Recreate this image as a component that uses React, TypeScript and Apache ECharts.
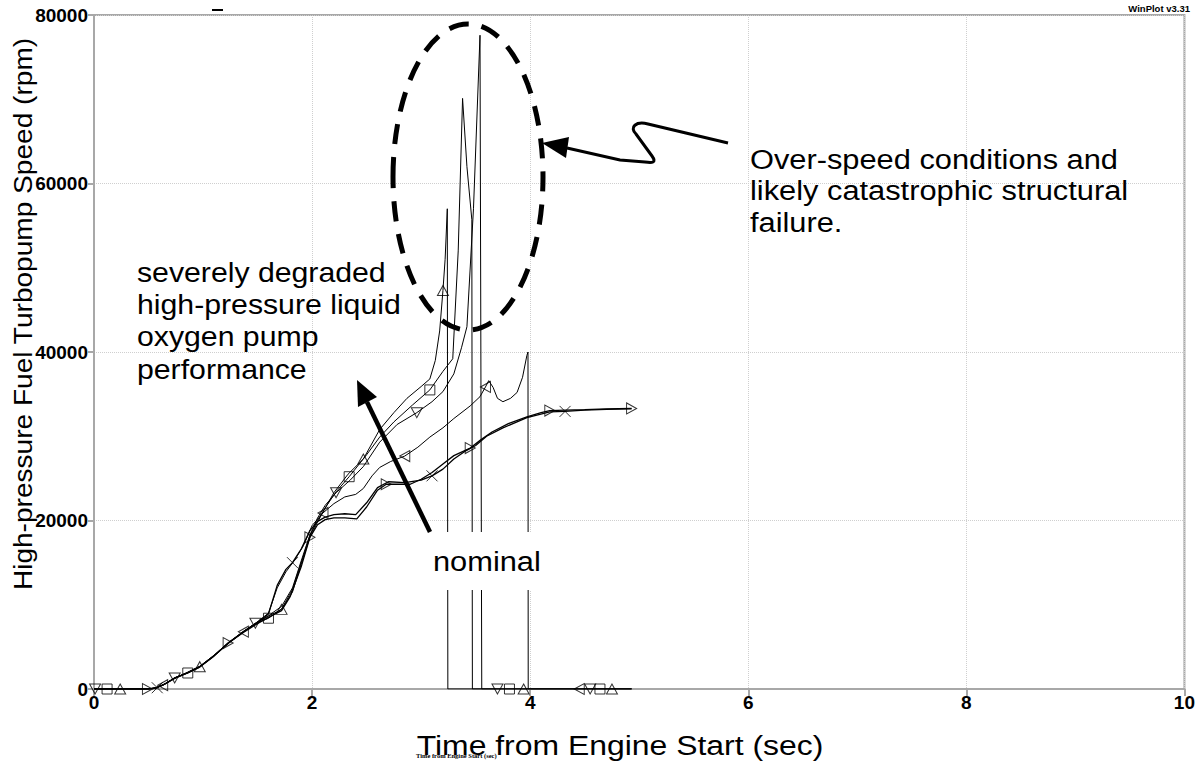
import React, { useEffect, useRef } from "react";
import * as echarts from "echarts";

// ---- axis ticks ----
const xTickLabels = ["0", "2", "4", "6", "8", "10"];
const yTickLabels = ["0", "20000", "40000", "60000", "80000"];

// ---- run data [time (s), speed (rpm)] ----
const runTriangle: number[][] = [
  [0, 0], [0.5, 0], [0.56, 100], [0.64, 500], [0.74, 1300], [0.86, 1950], [0.97, 2650],
  [1.1, 3950], [1.23, 5450], [1.37, 6800], [1.49, 7850], [1.6, 8650], [1.72, 9450],
  [1.82, 11500], [1.9, 14800], [1.98, 18000], [2.05, 19800], [2.1, 21000], [2.2, 23300],
  [2.33, 25500], [2.47, 27300], [2.62, 30800], [2.75, 32800], [2.87, 34500], [3.0, 35900],
  [3.08, 36800], [3.13, 39000], [3.17, 42500], [3.2, 47300], [3.22, 51000], [3.24, 57000],
  [3.245, 0], [4.93, 0],
];
const runSquare: number[][] = [
  [0, 0], [0.5, 0], [0.57, 150], [0.65, 600], [0.74, 1350], [0.86, 1900], [0.97, 2600],
  [1.1, 3900], [1.23, 5400], [1.37, 6750], [1.49, 7800], [1.6, 8400], [1.72, 9500],
  [1.82, 11800], [1.9, 15000], [1.98, 18200], [2.05, 20000], [2.12, 21500], [2.22, 23400],
  [2.34, 25200], [2.5, 27800], [2.62, 29900], [2.75, 31700], [2.92, 33700], [3.08, 35500],
  [3.2, 37700], [3.29, 39200], [3.34, 52000], [3.38, 70100], [3.42, 62000], [3.465, 55700],
  [3.47, 0], [4.93, 0],
];
const runDown: number[][] = [
  [0, 0], [0.5, 0], [0.58, 200], [0.66, 700], [0.74, 1300], [0.86, 2000], [0.97, 2700],
  [1.1, 4000], [1.23, 5500], [1.37, 6850], [1.48, 7800], [1.6, 8700], [1.72, 9800],
  [1.82, 12000], [1.9, 15200], [1.98, 18300], [2.05, 20300], [2.12, 21800], [2.22, 23300],
  [2.35, 24800], [2.47, 26400], [2.62, 29300], [2.78, 31400], [2.96, 32800], [3.1, 34100],
  [3.2, 35300], [3.3, 37400], [3.37, 40500], [3.42, 43000], [3.48, 57000], [3.54, 77600],
  [3.556, 0], [4.93, 0],
];
const runLeft: number[][] = [
  [0, 0], [0.5, 0], [0.56, 120], [0.63, 450], [0.74, 1300], [0.86, 1950], [0.97, 2650],
  [1.1, 3950], [1.23, 5450], [1.37, 6800], [1.49, 7900], [1.6, 9000], [1.68, 12000],
  [1.76, 13900], [1.84, 15300], [1.92, 17000], [2.0, 19400], [2.1, 20900], [2.2, 22000],
  [2.3, 22800], [2.4, 23100], [2.47, 23800], [2.55, 25300], [2.62, 26300], [2.72, 27000],
  [2.85, 27650], [2.97, 28700], [3.08, 29900], [3.2, 31000], [3.3, 32100], [3.45, 33600],
  [3.54, 34700], [3.59, 35850], [3.62, 36600], [3.66, 35800], [3.7, 34500], [3.75, 34100],
  [3.82, 34500], [3.88, 35200], [3.93, 37000], [3.97, 39600], [3.98, 40000], [3.982, 0], [4.93, 0],
];
const runRight: number[][] = [
  [0, 0], [0.48, 0], [0.55, 80], [0.63, 450], [0.74, 1250], [0.86, 1900], [0.97, 2600],
  [1.1, 3900], [1.23, 5450], [1.37, 6700], [1.49, 7700], [1.6, 8500], [1.72, 9300],
  [1.8, 11000], [1.9, 14500], [1.98, 18000], [2.05, 19500], [2.12, 20100], [2.2, 20300],
  [2.3, 20300], [2.41, 20200], [2.5, 21600], [2.6, 23600], [2.68, 24300], [2.8, 24300],
  [2.9, 24300], [3.0, 24900], [3.1, 25700], [3.2, 26700], [3.3, 27700], [3.45, 28600],
  [3.55, 29600], [3.65, 30500], [3.8, 31500], [3.97, 32300], [4.1, 32800], [4.18, 33050],
  [4.32, 33100], [4.5, 33150], [4.7, 33250], [4.93, 33300],
];
const runCross: number[][] = [
  [0, 0], [0.5, 0], [0.58, 150], [0.66, 650], [0.74, 1300], [0.86, 1950], [0.97, 2650],
  [1.1, 3950], [1.23, 5400], [1.37, 6800], [1.49, 7800], [1.6, 8900], [1.68, 12300],
  [1.76, 14200], [1.82, 15000], [1.9, 16600], [1.98, 18800], [2.05, 19900], [2.12, 20400],
  [2.2, 20700], [2.3, 20800], [2.4, 20700], [2.5, 22100], [2.6, 23900], [2.7, 24600],
  [2.85, 24500], [3.0, 24800], [3.1, 25300], [3.2, 26100], [3.3, 27300], [3.4, 28200],
  [3.5, 28900], [3.6, 30000], [3.75, 31000], [3.97, 32200], [4.18, 32900], [4.32, 32950],
  [4.5, 33100], [4.7, 33200], [4.93, 33250],
];

// ---- marker positions on each run ----
const markTriangle: number[][] = [[0.24, 0], [0.97, 2650], [1.72, 9450], [2.47, 27300], [3.2, 47300], [3.94, 0], [4.75, 0]];
const markSquare: number[][] = [[0.12, 0], [0.86, 1900], [1.6, 8400], [2.34, 25200], [3.08, 35500], [3.81, 0], [4.64, 0]];
const markDown: number[][] = [[0.01, 0], [0.74, 1300], [1.48, 7800], [2.22, 23300], [2.96, 32800], [3.7, 0], [4.55, 0]];
const markLeft: number[][] = [[0.63, 450], [1.37, 6800], [2.1, 20900], [2.85, 27650], [3.59, 35850], [4.45, 0]];
const markRight: number[][] = [[0.49, 0], [1.23, 5450], [1.98, 18000], [2.68, 24300], [3.45, 28600], [4.18, 33050], [4.93, 33300]];
const markCross: number[][] = [[0.58, 150], [1.82, 15000], [3.1, 25300], [4.32, 32950]];

const FONT = "'Liberation Sans', Arial, Helvetica, sans-serif";
const SARROW_D =
  "M728 143 L648 124 C636 121 629 127 636 134 L652 156 C657 163 652 163 645 162 L620 160 L567 148";

export default function App() {
  const ref = useRef<HTMLDivElement>(null);
  useEffect(() => {
    if (!ref.current) return;
    echarts.graphic.registerShape("sarrow", echarts.graphic.extendPath(SARROW_D, {}));
    const chart = echarts.init(ref.current, null, { renderer: "svg" });

    const lineSeries = (name: string, data: number[][], w = 1) => ({
      name,
      type: "line",
      data,
      symbol: "none",
      lineStyle: { color: "#000", width: w },
      z: 3,
      silent: true,
    });
    const markSeries = (name: string, data: number[][], symbol: string, rotate: number, size: any) => ({
      name: name + " markers",
      type: "scatter",
      data,
      symbol,
      symbolRotate: rotate,
      symbolSize: size,
      itemStyle: { color: "rgba(0,0,0,0)", borderColor: "#000", borderWidth: 1 },
      z: 4,
      silent: true,
    });

    const txt = (text: string, x: number, y: number, size: number, extra: any = {}, styleExtra: any = {}) => ({
      type: "text",
      x,
      y,
      z: 100,
      silent: true,
      ...extra,
      style: {
        text,
        fontSize: size,
        fontFamily: FONT,
        fill: "#000",
        textAlign: "left",
        align: "left",
        textVerticalAlign: "top",
        verticalAlign: "top",
        ...styleExtra,
      },
    });

    const option: any = {
      animation: false,
      backgroundColor: "#fff",
      grid: { left: 94, right: 13, top: 15, bottom: 74, show: true, borderColor: "#a8a8a8", borderWidth: 2 },
      xAxis: {
        type: "value",
        min: 0,
        max: 10,
        interval: 2,
        axisLine: { show: true, lineStyle: { color: "#a8a8a8", width: 2 } },
        axisTick: { show: true, length: 7, lineStyle: { color: "#a8a8a8", width: 2 } },
        axisLabel: {
          color: "#000",
          fontWeight: "bold",
          fontSize: 19,
          fontFamily: FONT,
          margin: 4,
          formatter: (v: number) => xTickLabels[Math.round(v / 2)] ?? String(v),
        },
        splitLine: { show: true, lineStyle: { color: "#cfcfcf", type: "dotted", width: 1 } },
      },
      yAxis: {
        type: "value",
        min: 0,
        max: 80000,
        interval: 20000,
        axisLine: { show: true, lineStyle: { color: "#a8a8a8", width: 2 } },
        axisTick: { show: true, length: 6, lineStyle: { color: "#a8a8a8", width: 2 } },
        axisLabel: {
          color: "#000",
          fontWeight: "bold",
          fontSize: 19,
          fontFamily: FONT,
          margin: 6,
          formatter: (v: number) => yTickLabels[Math.round(v / 20000)] ?? String(v),
        },
        splitLine: { show: true, lineStyle: { color: "#cfcfcf", type: "dotted", width: 1 } },
      },
      series: [
        lineSeries("run △", runTriangle),
        lineSeries("run □", runSquare),
        lineSeries("run ▽", runDown),
        lineSeries("run ◁", runLeft),
        lineSeries("run ▷", runRight, 1.3),
        lineSeries("run ×", runCross, 1.3),
        markSeries("run △", markTriangle, "triangle", 0, [11, 10]),
        markSeries("run □", markSquare, "rect", 0, 10),
        markSeries("run ▽", markDown, "triangle", 180, [11, 10]),
        markSeries("run ◁", markLeft, "triangle", 90, [11, 10]),
        markSeries("run ▷", markRight, "triangle", -90, [11, 10]),
        markSeries("run ×", markCross, "path://M0 0L10 10M10 0L0 10", 0, 11),
      ],
      graphic: [
        // axis titles
        txt("High-pressure Fuel Turbopump Speed (rpm)", 23, 314, 26, { rotation: Math.PI / 2, scaleX: 1.08 }, {
          textAlign: "center", align: "center", textVerticalAlign: "middle", verticalAlign: "middle",
        }),
        txt("Time from Engine Start (sec)", 620, 745, 28, { scaleX: 1.14 }, {
          textAlign: "center", align: "center", textVerticalAlign: "middle", verticalAlign: "middle",
        }),
        txt("Time from Engine Start (sec)", 416, 755, 6.5, {}, {
          fontFamily: "'Liberation Serif', 'Times New Roman', serif", fontWeight: "bold",
          textVerticalAlign: "middle", verticalAlign: "middle",
        }),
        txt("WinPlot v3.31", 1190, 8, 9.5, {}, {
          fontWeight: "bold", textAlign: "right", align: "right", textVerticalAlign: "middle", verticalAlign: "middle",
        }),
        { type: "line", z: 100, silent: true, shape: { x1: 212, y1: 10, x2: 223, y2: 10 }, style: { stroke: "#000", lineWidth: 2 } },
        // dashed ellipse
        {
          type: "ellipse", z: 100, silent: true,
          shape: { cx: 468, cy: 177, rx: 75, ry: 153 },
          style: { fill: "none", stroke: "#000", lineWidth: 5, lineDash: [20, 13] },
        },
        // straight arrow
        { type: "line", z: 100, silent: true, shape: { x1: 430, y1: 532, x2: 367, y2: 402 }, style: { stroke: "#000", lineWidth: 4.5 } },
        { type: "polygon", z: 100, silent: true, shape: { points: [[357, 380], [377, 397], [358, 407]] }, style: { fill: "#000" } },
        // curvy arrow
        { type: "sarrow", z: 100, silent: true, style: { fill: "none", stroke: "#000", lineWidth: 3 } },
        { type: "polygon", z: 100, silent: true, shape: { points: [[542, 143], [569, 137], [566, 158]] }, style: { fill: "#000" } },
        // nominal label
        { type: "rect", z: 99, silent: true, shape: { x: 427, y: 532, width: 122, height: 58 }, style: { fill: "#fff" } },
        txt("nominal", 433, 561, 28, { scaleX: 1.1 }, { textVerticalAlign: "middle", verticalAlign: "middle" }),
        // annotations
        txt("Over-speed conditions and\nlikely catastrophic structural\nfailure.", 750, 143, 28, { scaleX: 1.1 }, { lineHeight: 31.5 }),
        txt("severely degraded\nhigh-pressure liquid\noxygen pump\nperformance", 137, 256, 28, { scaleX: 1.08 }, { lineHeight: 32.3 }),
      ],
    };
    chart.setOption(option);
    return () => chart.dispose();
  }, []);
  return (
    <div
      ref={ref}
      style={{ position: "absolute", left: 0, top: 0, width: 1198, height: 763, background: "#fff" }}
    />
  );
}
